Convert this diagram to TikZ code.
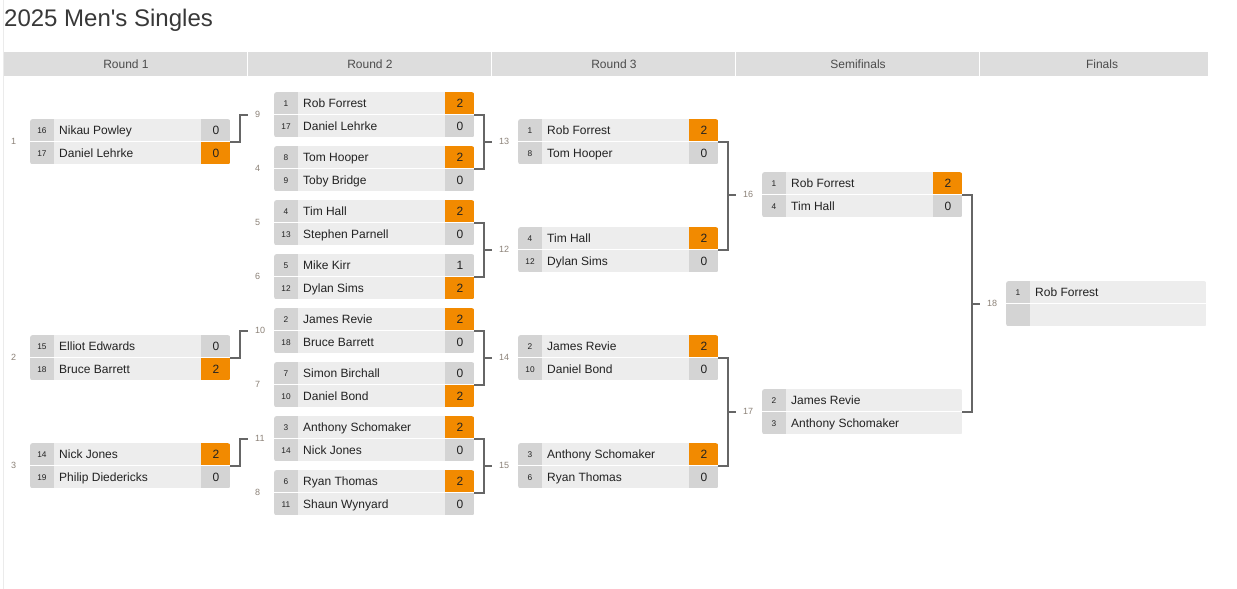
\documentclass[tikz,border=0pt]{standalone}
\usepackage{fontspec}
\setmainfont{Liberation Sans}
\usepackage{xcolor}
\usepackage{tikz}
\usetikzlibrary{positioning,calc}
\definecolor{winorange}{HTML}{F28A00}
\definecolor{cellgray}{HTML}{D4D4D4}
\definecolor{namegray}{HTML}{EDEDED}
\definecolor{headgray}{HTML}{DDDDDD}
\definecolor{linegray}{HTML}{666666}
\definecolor{numgray}{HTML}{8C8278}
\definecolor{textdark}{HTML}{222222}

\begin{document}
\begin{tikzpicture}[x=1pt,y=-1pt]
        % Define styles
        \tikzstyle{matchbox} = [rectangle, anchor=north west, minimum width=200pt, minimum height=45pt, inner sep=0pt]
        \tikzstyle{seedtext} = [anchor=base, inner sep=0pt, font=\fontsize{8.3}{8.3}\selectfont, text=textdark]
        \tikzstyle{nametext} = [anchor=base west, inner sep=0pt, font=\fontsize{12}{12}\selectfont, text=textdark]
        \tikzstyle{scoretext} = [anchor=base, inner sep=0pt, font=\fontsize{12}{12}\selectfont, text=textdark]
        \tikzstyle{num} = [anchor=west, inner sep=0pt, font=\fontsize{9}{9}\selectfont, text=numgray]
        \tikzstyle{head} = [rectangle, anchor=north west, minimum height=24pt, inner sep=0pt, fill=headgray]
        \tikzstyle{headtext} = [inner sep=0pt, font=\fontsize{12}{12}\selectfont, text=black!70]
        \tikzstyle{link} = [draw=linegray, line width=2pt, shorten >=7pt]

        \useasboundingbox (0,0) rectangle (1237,589);
        \fill[white] (0,0) rectangle (1237,589);
        \draw[black!8, line width=1.5pt] (3.5,0) -- (3.5,589);

        % Title
        \node (title) [anchor=base west, inner sep=0pt, font=\fontsize{24}{24}\selectfont, text=black!78] at (4,26.5) {2025 Men{\addfontfeatures{Ligatures=TeXOff}'}s Singles};

        % Round headers
        \foreach \i/\x/\w/\t in {1/4/243/Round 1, 2/248/243/Round 2, 3/492/243/Round 3, 4/736/243/Semifinals, 5/980/228/Finals}{
            \node (h\i) [head, minimum width=\w pt] at (\x,52) {};
            \node (t\i) [headtext] at (\x+122,64) {\t};
        }

        % Matches
        \foreach \k/\x/\y/\sa/\na/\pa/\ca/\sb/\nb/\pb/\cb in {
            1/30/119/16/Nikau Powley/0/cellgray/17/Daniel Lehrke/0/winorange,
            2/30/335/15/Elliot Edwards/0/cellgray/18/Bruce Barrett/2/winorange,
            3/30/443/14/Nick Jones/2/winorange/19/Philip Diedericks/0/cellgray,
            9/274/92/1/Rob Forrest/2/winorange/17/Daniel Lehrke/0/cellgray,
            4/274/146/8/Tom Hooper/2/winorange/9/Toby Bridge/0/cellgray,
            5/274/200/4/Tim Hall/2/winorange/13/Stephen Parnell/0/cellgray,
            6/274/254/5/Mike Kirr/1/cellgray/12/Dylan Sims/2/winorange,
            10/274/308/2/James Revie/2/winorange/18/Bruce Barrett/0/cellgray,
            7/274/362/7/Simon Birchall/0/cellgray/10/Daniel Bond/2/winorange,
            11/274/416/3/Anthony Schomaker/2/winorange/14/Nick Jones/0/cellgray,
            8/274/470/6/Ryan Thomas/2/winorange/11/Shaun Wynyard/0/cellgray,
            13/518/119/1/Rob Forrest/2/winorange/8/Tom Hooper/0/cellgray,
            12/518/227/4/Tim Hall/2/winorange/12/Dylan Sims/0/cellgray,
            14/518/335/2/James Revie/2/winorange/10/Daniel Bond/0/cellgray,
            15/518/443/3/Anthony Schomaker/2/winorange/6/Ryan Thomas/0/cellgray,
            16/762/172/1/Rob Forrest/2/winorange/4/Tim Hall/0/cellgray,
            17/762/389/2/James Revie//namegray/3/Anthony Schomaker//namegray,
            18/1006/281/1/Rob Forrest//namegray////namegray}
        {
            \node (m\k) [matchbox] at (\x,\y) {};
            \begin{scope}
                \clip[rounded corners=3pt] (m\k.north west) rectangle (m\k.south east);
                \fill[namegray] (m\k.north west) rectangle (m\k.south east);
                \fill[cellgray] (m\k.north west) rectangle ([xshift=24pt]m\k.south west);
                \fill[fill=\ca] ([xshift=-29pt]m\k.north east) rectangle (m\k.east);
                \fill[fill=\cb] ([xshift=-29pt]m\k.east) rectangle (m\k.south east);
            \end{scope}
            \draw[white, line width=1.2pt] (m\k.west) -- (m\k.east);
            \node[seedtext] at ($(m\k.north west)+(12,14)$) {\sa};
            \node[nametext] at ($(m\k.north west)+(29,15)$) {\na};
            \node[scoretext] at ($(m\k.north east)+(-14.5,15.5)$) {\pa};
            \node[seedtext] at ($(m\k.north west)+(12,37)$) {\sb};
            \node[nametext] at ($(m\k.north west)+(29,38)$) {\nb};
            \node[scoretext] at ($(m\k.north east)+(-14.5,38.5)$) {\pb};
            \node (n\k) [num] at ([xshift=-19pt]m\k.west) {\k};
        }

        % Round 1 to Round 2
        \draw[link] (m1.east) -- ++(9.5,0) |- (n9.west);
        \draw[link] (m2.east) -- ++(9.5,0) |- (n10.west);
        \draw[link] (m3.east) -- ++(9.5,0) |- (n11.west);

        % Round 2 to Round 3
        \foreach \a/\b/\c in {9/4/13, 5/6/12, 10/7/14, 11/8/15}{
            \draw[link] (m\a.east) -- ++(9.5,0) |- (n\c.west);
            \draw[link] (m\b.east) -- ++(9.5,0) |- (n\c.west);
        }

        % Round 3 to Semifinals to Finals
        \foreach \a/\b/\c in {13/12/16, 14/15/17, 16/17/18}{
            \draw[link] (m\a.east) -- ++(9.5,0) |- (n\c.west);
            \draw[link] (m\b.east) -- ++(9.5,0) |- (n\c.west);
        }

    \end{tikzpicture}
\end{document}
